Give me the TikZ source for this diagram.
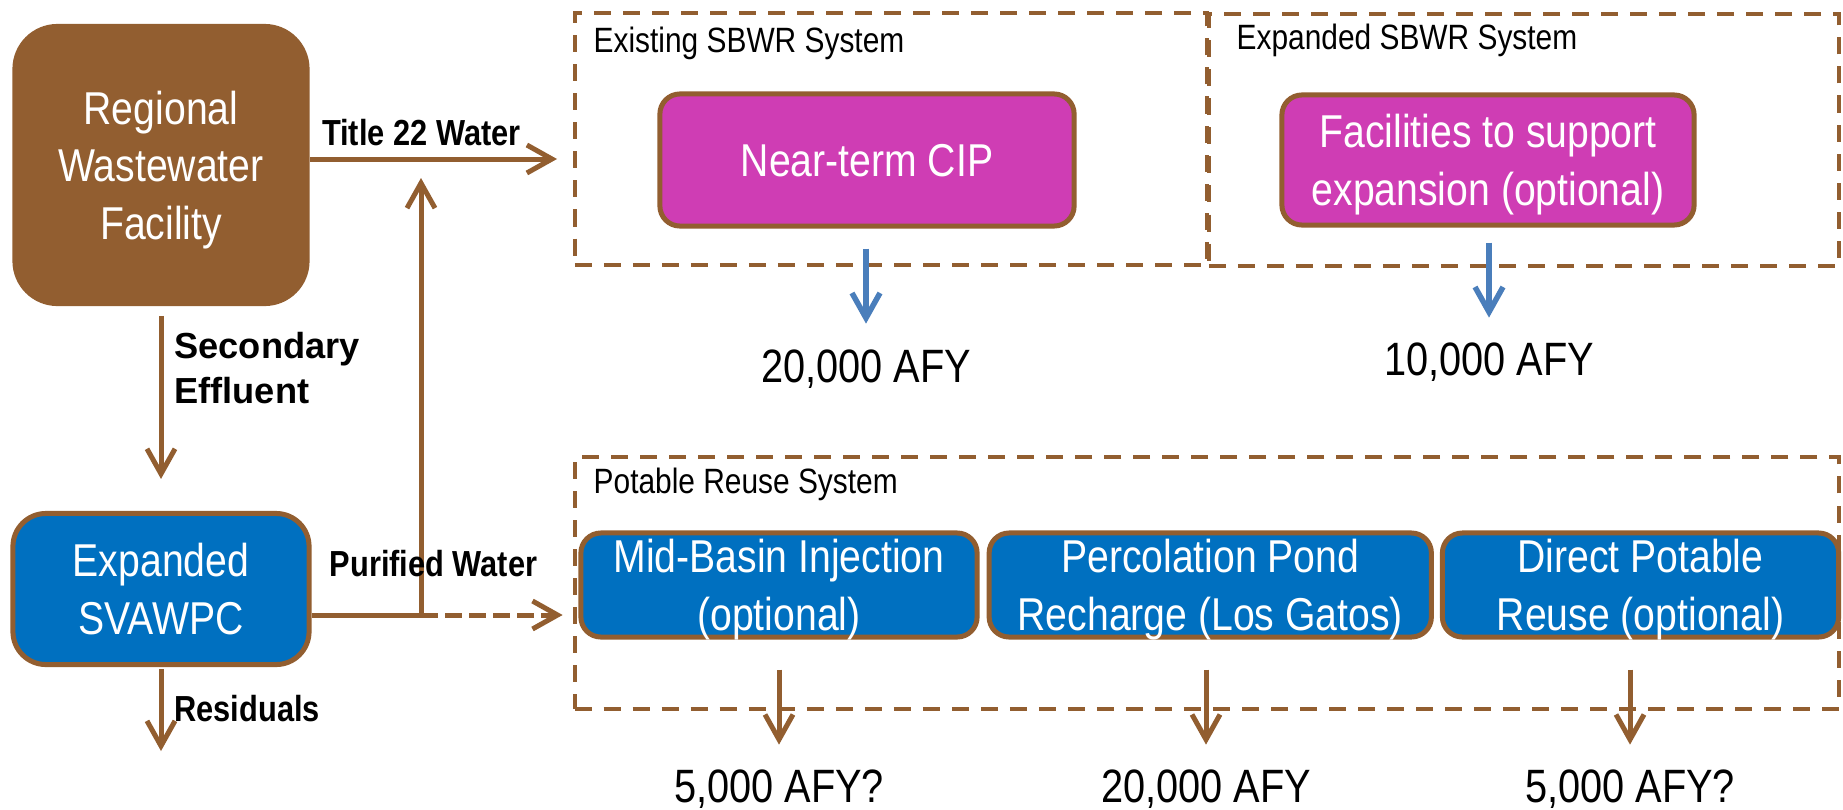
\documentclass[tikz,border=0pt]{standalone}
\usepackage{fontspec}
\setmainfont{Liberation Sans}[FakeStretch=0.85]
\newfontfamily\widefont{Liberation Sans}
\usepackage{xcolor}
\usepackage{tikz}
\usetikzlibrary{positioning,arrows.meta}

\definecolor{wwbrown}{RGB}{146,94,48}
\definecolor{cippink}{RGB}{207,61,180}
\definecolor{pwblue}{RGB}{0,112,192}
\definecolor{afyblue}{RGB}{74,126,187}

\newcommand{\boxfont}{\fontsize{13.1}{16.4}\selectfont}
\newcommand{\afyfont}{\fontsize{13.3}{16}\selectfont}
\newcommand{\sysfont}{\fontsize{10}{12}\selectfont}
\newcommand{\flowfont}{\fontsize{10.3}{12.8}\selectfont\bfseries}

\begin{document}
\begin{tikzpicture}[x=0.01cm,y=-0.01cm,
        plant/.style={rectangle,rounded corners=0.45cm,fill=wwbrown,text=white,align=center,font=\boxfont,inner sep=0pt,text depth=0pt},
        stage/.style={rectangle,rounded corners=0.2cm,draw=wwbrown,line width=0.05cm,text=white,align=center,font=\boxfont,inner sep=0pt,text depth=0pt},
        sysframe/.style={rectangle,draw=wwbrown,line width=0.04cm,dash pattern=on 0.17cm off 0.12cm,inner sep=0pt},
        systitle/.style={font=\sysfont,inner sep=0pt},
        afy/.style={font=\afyfont,inner sep=0pt},
        flowlabel/.style={font=\flowfont,inner sep=0.11cm},
        pipe/.style={draw=wwbrown,line width=0.05cm},
        flowarrow/.style={pipe,-{Straight Barb[length=0.25cm,width=0.28cm]}}]
        \useasboundingbox (0,0) rectangle (1843,809);

        \node[sysframe,minimum width=6.32cm,minimum height=2.51cm] (exist) at (891,139) {};
        \node[sysframe,minimum width=6.30cm,minimum height=2.51cm] (expand) at (1524,140) {};
        \node[sysframe,minimum width=12.64cm,minimum height=2.51cm] (potable) at (1207,583) {};
        \node[systitle,anchor=base west] (existT) at (593,52) {Existing SBWR System};
        \node[systitle,anchor=base west] (expandT) at (1236,49) {Expanded SBWR System};
        \node[systitle,anchor=base west] (potableT) at (593,493) {Potable Reuse System};

        \node[plant,minimum width=2.97cm,minimum height=2.82cm] (rwf) at (161,165) {Regional\\Wastewater\\Facility};
        \node[stage,fill=pwblue,rounded corners=0.33cm,minimum width=2.96cm,minimum height=1.51cm] (svawpc) at (161,589) {Expanded\\SVAWPC};

        \node[stage,fill=cippink,minimum width=4.14cm,minimum height=1.32cm] (cip) at (867,160) {Near-term CIP};
        \node[stage,fill=cippink,minimum width=4.12cm,minimum height=1.30cm] (fac) at (1488,160) {Facilities to support\\expansion (optional)};

        \node[stage,fill=pwblue,minimum width=3.96cm,minimum height=1.04cm] (mid) at (779,585) {Mid-Basin Injection\\(optional)};
        \node[stage,fill=pwblue,minimum width=4.42cm,minimum height=1.04cm] (perc) [right=0.07cm of mid] {Percolation Pond\\Recharge (Los Gatos)};
        \node[stage,fill=pwblue,minimum width=3.96cm,minimum height=1.04cm] (dpr) [right=0.06cm of perc] {Direct Potable\\Reuse (optional)};

        \node[afy,anchor=base] (cipafy) at (866,382) {20,000 AFY};
        \node[afy,anchor=base] (facafy) at (1489,375) {10,000 AFY};
        \node[afy,anchor=base] (midafy) at (779,802) {5,000 AFY?};
        \node[afy,anchor=base] (percafy) at (1206,802) {20,000 AFY};
        \node[afy,anchor=base] (dprafy) at (1630,802) {5,000 AFY?};

        \coordinate (t22) at (557,159);
        \coordinate (jn) at (421,615);
        \coordinate (res) at (161,751);

        \draw[flowarrow] (rwf.east |- t22) to node[flowlabel,above,pos=0.45] (t22lab) {Title 22 Water} (t22);
        \draw[flowarrow,shorten <=0.09cm,shorten >=0.32cm] (rwf.south) to node[flowlabel,right,pos=0.3,align=left,font=\widefont\flowfont] (seclab) {Secondary\\Effluent} (svawpc.north);
        \draw[pipe] (svawpc.east |- jn) -- (jn);
        \draw[flowarrow,shorten >=0.19cm] (jn) -- (jn |- t22);
        \draw[flowarrow,dash pattern=on 0.17cm off 0.07cm,shorten >=0.1cm] (jn) -- (potable.west |- jn);
        \node[flowlabel,anchor=base west] (pwlab) at (318,576) {Purified Water};
        \draw[flowarrow,shorten <=0.02cm] (svawpc.south) to node[flowlabel,right] (reslab) {Residuals} (res);

        \draw[flowarrow,draw=afyblue,line width=0.055cm,shorten <=0.2cm,shorten >=0.25cm] (cipafy.north |- cip.south) -- (cipafy.north);
        \draw[flowarrow,draw=afyblue,line width=0.055cm,shorten <=0.15cm,shorten >=0.24cm] (facafy.north |- fac.south) -- (facafy.north);
        \draw[flowarrow,shorten <=0.3cm,shorten >=0.24cm] (midafy.north |- mid.south) -- (midafy.north);
        \draw[flowarrow,shorten <=0.3cm,shorten >=0.24cm] (percafy.north |- perc.south) -- (percafy.north);
        \draw[flowarrow,shorten <=0.3cm,shorten >=0.24cm] (dprafy.north |- dpr.south) -- (dprafy.north);
    \end{tikzpicture}
\end{document}
